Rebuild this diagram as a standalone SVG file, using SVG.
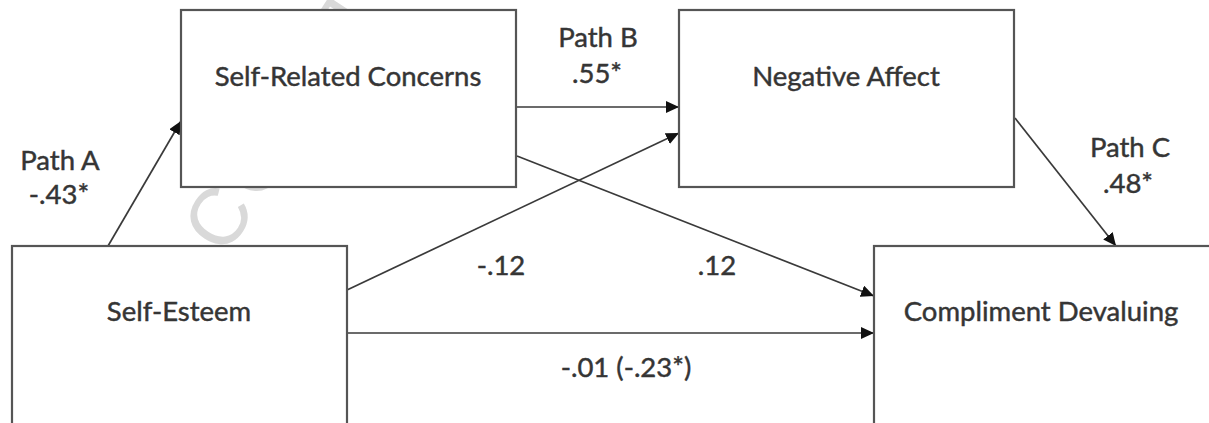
<svg xmlns="http://www.w3.org/2000/svg" width="1209" height="423" viewBox="0 0 1209 423">
  <style>
    .box { fill: #ffffff; stroke: #555555; stroke-width: 2.2; }
    .lbl { font-family: Lato, "Open Sans", "Liberation Sans", sans-serif; font-size: 27.5px; fill: #353535; stroke: #353535; stroke-width: 0.45; text-anchor: middle; }
    .edge { fill: none; stroke: #3a3a3a; stroke-width: 1.7; marker-end: url(#head); }
    .wm { font-family: "Liberation Sans", Arial, sans-serif; font-size: 80px; letter-spacing: 6px; fill: #d9d9d9; }
  </style>
  <defs>
    <marker id="head" markerUnits="userSpaceOnUse" markerWidth="14" markerHeight="12" refX="13" refY="6" orient="auto">
      <path d="M0,0 L13,6 L0,12 Z" fill="#111111"/>
    </marker>
  </defs>

  <rect width="1209" height="423" fill="#ffffff"/>

  <!-- faint background watermark, mostly covered by the boxes -->
  <text class="wm" transform="translate(193.2,306.9) rotate(-57)">ACCEPTED MANUSCRIPT</text>

  <g id="connectors">
    <line class="edge" x1="108" y1="246" x2="181" y2="121"/>
    <line class="edge" x1="517" y1="107" x2="679" y2="107"/>
    <line class="edge" x1="347" y1="290" x2="679" y2="133"/>
    <line class="edge" x1="517" y1="156" x2="874" y2="296"/>
    <line class="edge" x1="347" y1="333" x2="874" y2="333"/>
    <line class="edge" x1="1015" y1="118" x2="1116" y2="246"/>
  </g>

  <g id="node-self-related-concerns">
    <rect class="box" x="181" y="10" width="335" height="177"/>
    <text class="lbl" x="348" y="86">Self-Related Concerns</text>
  </g>

  <g id="node-negative-affect">
    <rect class="box" x="679" y="10" width="335" height="177"/>
    <text class="lbl" x="846" y="86">Negative Affect</text>
  </g>

  <g id="node-self-esteem">
    <rect class="box" x="12" y="246" width="335" height="200"/>
    <text class="lbl" x="179" y="321">Self-Esteem</text>
  </g>

  <g id="node-compliment-devaluing">
    <rect class="box" x="874" y="246" width="350" height="200"/>
    <text class="lbl" x="1041" y="321">Compliment Devaluing</text>
  </g>

  <g id="edge-labels">
    <text class="lbl" x="60" y="170">Path A</text>
    <text class="lbl" x="59" y="204">-.43*</text>
    <text class="lbl" x="598" y="47">Path B</text>
    <text class="lbl" x="597" y="83">.55*</text>
    <text class="lbl" x="1130" y="157">Path C</text>
    <text class="lbl" x="1128" y="193">.48*</text>
    <text class="lbl" x="501" y="275">-.12</text>
    <text class="lbl" x="717" y="275">.12</text>
    <text class="lbl" x="626" y="377">-.01 (-.23*)</text>
  </g>
</svg>
